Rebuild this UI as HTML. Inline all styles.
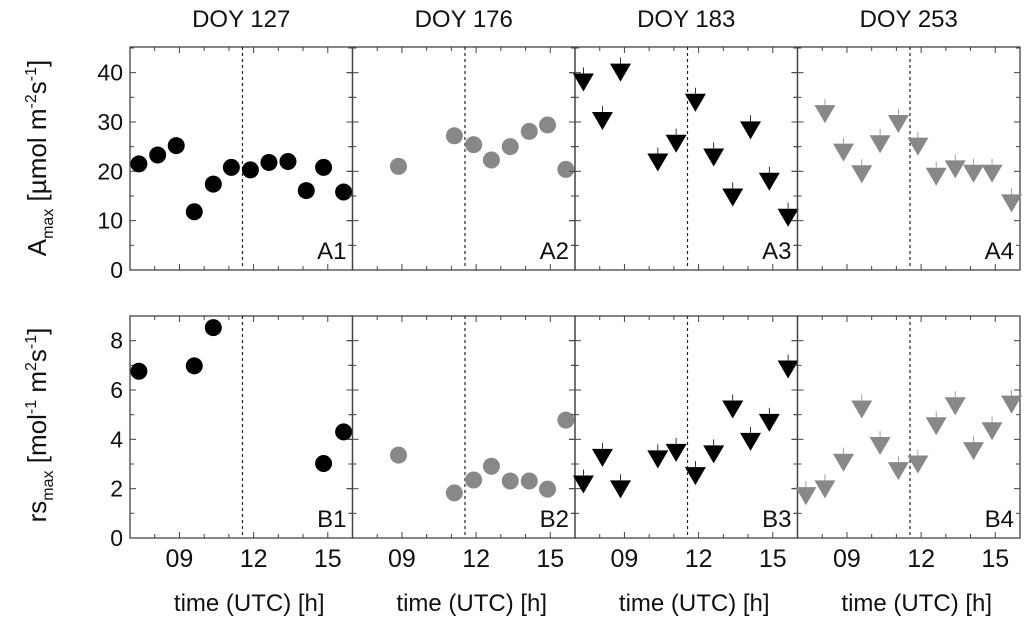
<!DOCTYPE html>
<html><head><meta charset="utf-8"><style>
html,body{margin:0;padding:0;background:#fff;}
svg{display:block;font-family:"Liberation Sans",Arial,sans-serif;}
</style></head><body>
<div style="position:relative;width:1024px;height:620px;">
<svg id="chart" width="1024" height="620" viewBox="0 0 1024 620" xmlns="http://www.w3.org/2000/svg" style="position:absolute;left:0;top:0;"></svg>
<svg width="1024" height="620" style="position:absolute;left:0;top:0;font-family:'Liberation Sans',Arial,sans-serif;">
<text transform="translate(46,158) rotate(-90)" text-anchor="middle" font-size="26" fill="#111">A<tspan font-size="16" dy="7">max</tspan><tspan dy="-7"> [µmol m</tspan><tspan font-size="16" dy="-10">-2</tspan><tspan dy="10">s</tspan><tspan font-size="16" dy="-10">-1</tspan><tspan dy="10">]</tspan></text>
<text transform="translate(46,425) rotate(-90)" text-anchor="middle" font-size="26" fill="#111">rs<tspan font-size="16" dy="7">max</tspan><tspan dy="-7"> [mol</tspan><tspan font-size="16" dy="-10">-1</tspan><tspan dy="10"> m</tspan><tspan font-size="16" dy="-10">2</tspan><tspan dy="10">s</tspan><tspan font-size="16" dy="-10">-1</tspan><tspan dy="10">]</tspan></text>
</svg>
</div>
<script>
const panelTitles = ["DOY 127","DOY 176","DOY 183","DOY 253"];
const xTickLabels = ["09","12","15"];
const aTickLabels = ["0","10","20","30","40"];
const rsTickLabels = ["0","2","4","6","8"];
const dashHour = 11.55;
// A row (Amax) data
const a1Time = [7.36,8.12,8.87,9.6,10.37,11.1,11.87,12.62,13.39,14.13,14.83,15.64];
const a1Val  = [21.5,23.3,25.2,11.8,17.4,20.8,20.3,21.8,22.0,16.1,20.8,15.8];
const a2Time = [8.86,11.12,11.9,12.62,13.38,14.15,14.89,15.63];
const a2Val  = [21.0,27.2,25.4,22.3,25.0,28.1,29.4,20.4];
const a3Time = [7.34,8.11,8.84,10.35,11.09,11.87,12.61,13.38,14.1,14.86,15.62];
const a3Val  = [38.2,30.4,40.2,22.0,25.8,34.1,23.0,14.9,28.5,18.1,10.8];
const a4Time = [8.11,8.86,9.6,10.34,11.08,11.87,12.61,13.38,14.12,14.87,15.66];
const a4Val  = [31.8,24.0,19.6,25.7,29.8,25.2,19.1,20.6,19.7,19.7,13.7];
// B row (rsmax) data
const b1Time = [7.36,9.6,10.37,14.83,15.64];
const b1Val  = [6.76,6.98,8.53,3.02,4.30];
const b2Time = [8.86,11.12,11.9,12.62,13.38,14.15,14.89,15.63];
const b2Val  = [3.36,1.83,2.35,2.91,2.31,2.31,1.98,4.78];
const b3Time = [7.34,8.11,8.84,10.35,11.09,11.87,12.61,13.38,14.1,14.86,15.62];
const b3Val  = [2.21,3.29,2.01,3.23,3.49,2.55,3.43,5.25,3.94,4.71,6.87];
const b4Time = [7.34,8.11,8.86,9.6,10.34,11.08,11.87,12.61,13.38,14.12,14.87,15.66];
const b4Val  = [1.74,2.01,3.09,5.25,3.77,2.75,3.02,4.57,5.38,3.56,4.37,5.45];

const NS="http://www.w3.org/2000/svg";
const svg=document.getElementById('chart');
function mk(tag,attrs,parent){const e=document.createElementNS(NS,tag);for(const k in attrs)e.setAttribute(k,attrs[k]);(parent||svg).appendChild(e);return e;}

const panelX=[130,352.5,575,797.5];
const panelW=222.5;
const rows=[{top:47,bot:270,max:45.2,major:10,minor:5,labels:aTickLabels,pre:"A"},
            {top:316,bot:538,max:9,major:2,minor:1,labels:rsTickLabels,pre:"B"}];
const series=[[ [a1Time,a1Val],[a2Time,a2Val],[a3Time,a3Val],[a4Time,a4Val] ],
              [ [b1Time,b1Val],[b2Time,b2Val],[b3Time,b3Val],[b4Time,b4Val] ]];
const colors=["#000","#888","#000","#888"];
const shapes=["circle","circle","tri","tri"];
function xs(p,h){return panelX[p]+(h-7)/9*panelW;}

panelTitles.forEach((t,p)=>{
  const e=mk('text',{x:panelX[p]+panelW/2,y:27,'text-anchor':'middle','font-size':24,fill:'#111'});
  e.textContent=t;
  
  
});

rows.forEach((r,ri)=>{
  const ys=v=>r.bot-(v/r.max)*(r.bot-r.top);
  for(let p=0;p<4;p++){
    const g=mk('g',{});
    
    
    const x0=panelX[p],x1=x0+panelW;
    mk('rect',{x:x0,y:r.top,width:panelW,height:r.bot-r.top,fill:'none',stroke:'#444','stroke-width':1.3},g);
    for(let h=8;h<=15;h++){
      const x=xs(p,h);const L=(h%3===0)?6:4;
      mk('line',{x1:x,x2:x,y1:r.bot,y2:r.bot-L,stroke:'#444','stroke-width':1},g);
      mk('line',{x1:x,x2:x,y1:r.top,y2:r.top+L,stroke:'#444','stroke-width':1},g);
    }
    for(let v=0;v<=r.max;v+=r.minor){
      const y=ys(v);const L=(v%r.major===0)?6:4;
      mk('line',{x1:x0,x2:x0+L,y1:y,y2:y,stroke:'#444','stroke-width':1},g);
      mk('line',{x1:x1-L,x2:x1,y1:y,y2:y,stroke:'#444','stroke-width':1},g);
      if(p>0) mk('line',{x1:x0-L,x2:x0,y1:y,y2:y,stroke:'#444','stroke-width':1},g);
    }
    const dx=xs(p,dashHour);
    mk('line',{x1:dx,x2:dx,y1:r.top,y2:r.bot-3,stroke:'#222','stroke-width':1.2,'stroke-dasharray':'3,3'},g);
    const lab=mk('text',{x:x1-6,y:r.bot-11,'text-anchor':'end','font-size':24,fill:'#111'},g);
    lab.textContent=r.pre+(p+1);
    
    
    const [T,V]=series[ri][p];
    T.forEach((h,i)=>{
      const cx=xs(p,h),cy=ys(V[i]);let m;
      if(shapes[p]==="circle"){
        m=mk('circle',{cx:cx,cy:cy,r:8.5,fill:colors[p]},g);
      }else{
        mk('line',{x1:cx,x2:cx,y1:cy-14,y2:cy-8,stroke:colors[p],'stroke-width':0.8},g);
        m=mk('polygon',{points:`${cx-10.5},${cy-8} ${cx+10.5},${cy-8} ${cx},${cy+10}`,fill:colors[p]},g);
      }
      
      
    });
  }
  r.labels.forEach(l=>{
    const e=mk('text',{x:123,y:ys(+l)+8,'text-anchor':'end','font-size':23,fill:'#111'});
    e.textContent=l;
    
    
  });
});

for(let p=0;p<4;p++){
  xTickLabels.forEach(l=>{
    const e=mk('text',{x:xs(p,+l),y:567,'text-anchor':'middle','font-size':25,fill:'#111'});
    e.textContent=l;
    
    
  });
  const t=mk('text',{x:panelX[p]+panelW/2+8,y:611,'text-anchor':'middle','font-size':24,fill:'#111'});
  t.textContent='time (UTC) [h]';
  
  
}
</script>
</body></html>
